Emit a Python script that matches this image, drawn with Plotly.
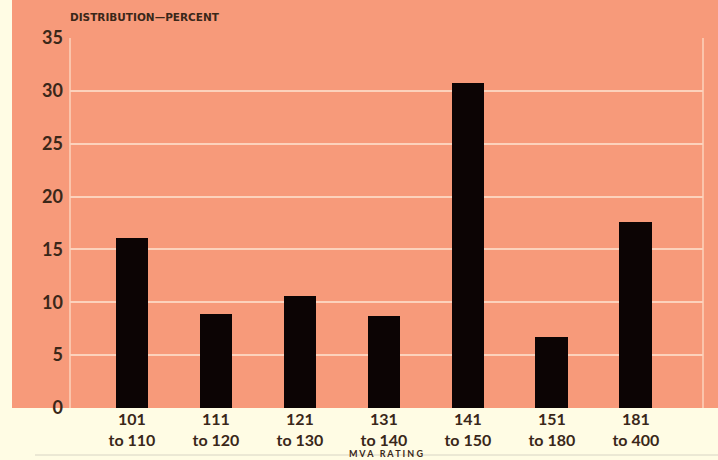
import plotly.graph_objects as go

categories = ["101<br>to 110", "111<br>to 120", "121<br>to 130", "131<br>to 140",
              "141<br>to 150", "151<br>to 180", "181<br>to 400"]
values = [16.1, 8.9, 10.6, 8.7, 30.7, 6.7, 17.6]
y_ticks = [0, 5, 10, 15, 20, 25, 30, 35]

ORANGE = "#F79A7A"
CREAM = "#FFFCE4"
TEXT = "#3A2719"
GRID = "#FCD2BC"

xpos = list(range(len(categories)))

fig = go.Figure(go.Bar(
    x=xpos, y=values, width=0.39,
    marker=dict(color="#0C0404", line=dict(width=0)),
))

W, H = 718, 460
ml, mr, mt, mb = 70, 15, 38, 52
pw, ph = W - ml - mr, H - mt - mb

def px_x(p):
    return (p - ml) / pw

def px_y(p):
    return (H - mb - p) / ph

shapes = [
    dict(type="rect", xref="paper", yref="paper", x0=px_x(12), x1=px_x(718),
         y0=0, y1=px_y(0), fillcolor=ORANGE, line=dict(width=0), layer="below"),
    dict(type="line", xref="paper", yref="y", x0=0, x1=0, y0=0, y1=35,
         line=dict(color=GRID, width=1.5), layer="below"),
    dict(type="line", xref="paper", yref="y", x0=1, x1=1, y0=0, y1=35,
         line=dict(color=GRID, width=1.5), layer="below"),
    dict(type="line", xref="paper", yref="paper", x0=px_x(35), x1=px_x(718),
         y0=px_y(455), y1=px_y(455), line=dict(color="#D8D4C4", width=1)),
]

fig.update_layout(
    width=W, height=H,
    margin=dict(l=ml, r=mr, t=mt, b=mb),
    paper_bgcolor=CREAM,
    plot_bgcolor=ORANGE,
    showlegend=False,
    bargap=0,
    font=dict(family="Lato", color=TEXT),
    shapes=shapes,
    xaxis=dict(
        tickmode="array", tickvals=xpos, ticktext=categories,
        range=[-0.738, 6.80], showgrid=False, zeroline=False, showline=False,
        ticks="", tickfont=dict(size=16, color=TEXT, family="Lato", weight="bold"),
        fixedrange=True,
    ),
    yaxis=dict(
        range=[0, 35], tickmode="array", tickvals=y_ticks,
        ticktext=[str(v) for v in y_ticks],
        showgrid=True, gridcolor=GRID, gridwidth=1.5, zeroline=False,
        showline=False, ticks="", ticklabelstandoff=6,
        tickfont=dict(size=18, color=TEXT, family="Lato", weight="bold"),
        fixedrange=True,
    ),
    annotations=[
        dict(text="DISTRIBUTION—PERCENT", xref="paper", yref="paper",
             x=px_x(68), y=px_y(17), xanchor="left", yanchor="middle",
             showarrow=False,
             font=dict(size=10.5, color=TEXT, family="DejaVu Sans", weight="bold")),
        dict(text="M V A   R A T I N G", xref="paper", yref="paper",
             x=px_x(386), y=px_y(453), xanchor="center", yanchor="middle",
             showarrow=False,
             font=dict(size=9, color=TEXT, family="Lato", weight="bold")),
    ],
)

fig.write_html("out.html")
